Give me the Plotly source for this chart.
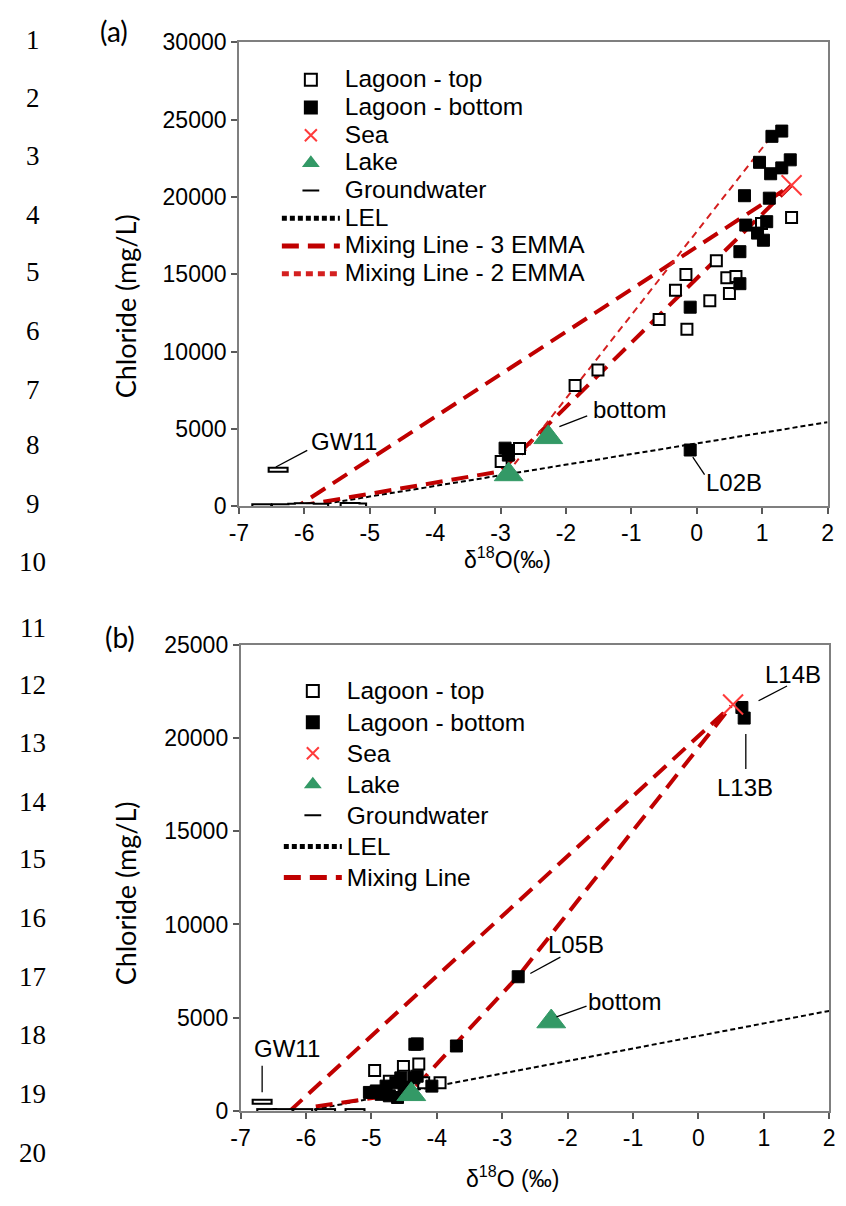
import plotly.graph_objects as go

# ---------------- Panel (a) ----------------
a_top_x = [1.45, 0.99, 0.30, -0.165, 0.46, 0.60, -0.325, 0.50, 0.20, -0.575, -0.15, -1.51, -1.86, -2.71, -2.99]
a_top_y = [18670, 18290, 15870, 14980, 14770, 14850, 13970, 13760, 13290, 12070, 11440, 8800, 7800, 3730, 2890]

a_bot_x = [1.30, 1.15, 0.96, 1.43, 1.30, 1.13, 0.73, 1.11, 0.75, 1.07, 0.93, 1.02, 0.66, 0.66, -0.10, -0.10, -2.93, -2.88, -2.88]
a_bot_y = [24260, 23920, 22240, 22400, 21880, 21500, 20080, 19920, 18180, 18400, 17660, 17200, 16460, 14390, 12870, 3630, 3750, 3600, 3300]

a_sea_x = [1.45]
a_sea_y = [20760]

a_lake_x = [-2.875, -2.27]
a_lake_y = [2050, 4450]

a_gw_x = [-6.4, -6.65, -6.35, -6.1, -6.0, -5.78, -5.3, -5.2]
a_gw_y = [2360, 0, 0, 20, 50, 30, 80, 40]

a_lel_x = [-5.9, 2.0]
a_lel_y = [0, 5430]

# three end-member mixing triangle: groundwater -> lake -> sea -> groundwater
a_mix3_x = [-6.1, -3.0, 1.45, -6.1]
a_mix3_y = [0, 2250, 20760, 0]

a_mix2_x = [-2.9, 1.1]
a_mix2_y = [2100, 23700]

# ---------------- Panel (b) ----------------
b_top_x = [-4.95, -4.51, -4.275, -4.725, -4.5, -4.2, -3.95, -4.65]
b_top_y = [2180, 2390, 2530, 1600, 1870, 1520, 1520, 1300]

b_bot_x = [-4.335, -4.30, -3.70, -2.755, 0.665, 0.70, -5.03, -4.925, -4.85, -4.775, -4.725,
           -4.625, -4.6, -4.55, -4.5, -4.45, -4.35, -4.3, -4.075]
b_bot_y = [3580, 3600, 3490, 7200, 21630, 21060, 1000, 1080, 900, 1340, 820,
           1520, 730, 1780, 1000, 1200, 1780, 1870, 1340]

b_sea_x = [0.53]
b_sea_y = [21790]

b_lake_x = [-4.39, -2.25]
b_lake_y = [900, 4800]

b_gw_x = [-6.67, -6.6, -6.35, -6.05, -5.7, -5.25]
b_gw_y = [500, 0, 0, 0, 0, 0]

b_lel_x = [-6.0, 2.0]
b_lel_y = [0, 5370]

b_mix_up_x = [-6.25, 0.5]
b_mix_up_y = [0, 21700]
b_mix_lo_x = [-5.85, -5.1, -4.4, -2.75, 0.5]
b_mix_lo_y = [250, 620, 1000, 7250, 21700]

# axis ticks
x_ticks = [-7, -6, -5, -4, -3, -2, -1, 0, 1, 2]
x_tick_text = ["-7", "-6", "-5", "-4", "-3", "-2", "-1", "0", "1", "2"]
ya_ticks = [0, 5000, 10000, 15000, 20000, 25000, 30000]
yb_ticks = [0, 5000, 10000, 15000, 20000, 25000]

# ---------------- styling ----------------
FONT = "Liberation Sans, Arial, sans-serif"
TITLE_FONT = "Lato, sans-serif"
RED_DARK = "#C00000"
RED_THIN = "#D42020"
SEA_RED = "#FF3B3B"
GREEN = "#339966"
LEG_TEXT = 24.5

W, H = 846, 1206

fig = go.Figure()


def leg(name):
    # legend entries are drawn a little larger than the row pitch allows
    return f'<span style="font-size:{LEG_TEXT}px">{name}</span>'


def add_panel(xa, ya, legend, top, bot, sea, lake, gw, lel, mixes):
    # lines first so the markers sit on top of them
    fig.add_trace(go.Scatter(x=lel[0], y=lel[1], mode="lines", name=leg("LEL"),
                             line=dict(color="black", width=2, dash="5px,3px"),
                             xaxis=xa, yaxis=ya, legend=legend, legendrank=6))
    for m in mixes:
        fig.add_trace(go.Scatter(x=m["x"], y=m["y"], mode="lines", name=leg(m["name"]),
                                 line=m["line"], showlegend=m["show"],
                                 xaxis=xa, yaxis=ya, legend=legend, legendrank=m["rank"]))
    fig.add_trace(go.Scatter(x=gw[0], y=gw[1], mode="markers", name=leg("Groundwater"),
                             marker=dict(symbol="line-ew", size=15, color="black",
                                         line=dict(color="black", width=6)),
                             xaxis=xa, yaxis=ya, legend=legend, legendrank=5))
    fig.add_trace(go.Scatter(x=gw[0], y=gw[1], mode="markers", showlegend=False,
                             marker=dict(symbol="line-ew", size=12, color="white",
                                         line=dict(color="white", width=2)),
                             xaxis=xa, yaxis=ya, hoverinfo="skip"))
    fig.add_trace(go.Scatter(x=top[0], y=top[1], mode="markers", name=leg("Lagoon - top"),
                             marker=dict(symbol="square", size=11, color="white",
                                         line=dict(color="black", width=2)),
                             xaxis=xa, yaxis=ya, legend=legend, legendrank=1))
    fig.add_trace(go.Scatter(x=bot[0], y=bot[1], mode="markers", name=leg("Lagoon - bottom"),
                             marker=dict(symbol="square", size=12, color="black",
                                         line=dict(color="black", width=1)),
                             xaxis=xa, yaxis=ya, legend=legend, legendrank=2))
    fig.add_trace(go.Scatter(x=lake[0], y=lake[1], mode="markers", name=leg("Lake"),
                             marker=dict(symbol="triangle-up", size=25, color=GREEN,
                                         line=dict(color=GREEN, width=1)),
                             xaxis=xa, yaxis=ya, legend=legend, legendrank=4))
    fig.add_trace(go.Scatter(x=sea[0], y=sea[1], mode="markers", name=leg("Sea"),
                             marker=dict(symbol="x-thin-open", size=20, color=SEA_RED,
                                         line=dict(color=SEA_RED, width=2)),
                             xaxis=xa, yaxis=ya, legend=legend, legendrank=3))


add_panel("x", "y", "legend",
          (a_top_x, a_top_y), (a_bot_x, a_bot_y), (a_sea_x, a_sea_y),
          (a_lake_x, a_lake_y), (a_gw_x, a_gw_y), (a_lel_x, a_lel_y),
          [dict(x=a_mix3_x, y=a_mix3_y, name="Mixing Line - 3 EMMA", show=True, rank=7,
                line=dict(color=RED_DARK, width=4, dash="17px,9px")),
           dict(x=a_mix2_x, y=a_mix2_y, name="Mixing Line - 2 EMMA", show=True, rank=8,
                line=dict(color=RED_THIN, width=2, dash="7px,5px"))])

add_panel("x2", "y2", "legend2",
          (b_top_x, b_top_y), (b_bot_x, b_bot_y), (b_sea_x, b_sea_y),
          (b_lake_x, b_lake_y), (b_gw_x, b_gw_y), (b_lel_x, b_lel_y),
          [dict(x=b_mix_up_x, y=b_mix_up_y, name="Mixing Line", show=True, rank=7,
                line=dict(color=RED_DARK, width=4, dash="17px,9px")),
           dict(x=b_mix_lo_x, y=b_mix_lo_y, name="Mixing Line", show=False, rank=8,
                line=dict(color=RED_DARK, width=4, dash="17px,9px"))])

# point labels with their leader lines
labels_a = [("GW11", -5.39, 4177, (-6.435, 2530), (-5.955, 3608)),
            ("bottom", -1.03, 6266, (-2.10, 5146), (-1.675, 5842)),
            ("L02B", 0.563, 1519, (-0.06, 3165), (0.12, 2044))]
labels_b = [("L14B", 1.445, 23376, (0.92, 21990), (1.355, 22780)),
            ("L13B", 0.71, 17343, (0.725, 20210), (0.725, 18330)),
            ("L05B", -1.878, 8950, (-2.57, 7376), (-2.11, 8252)),
            ("bottom", -1.135, 5891, (-2.17, 5052), (-1.71, 5629)),
            ("GW11", -6.286, 3373, (-6.67, 2429), (-6.67, 1012))]

annotations = []
shapes = []
for labels, xr, yr in ((labels_a, "x", "y"), (labels_b, "x2", "y2")):
    for text, tx, ty, p0, p1 in labels:
        annotations.append(dict(x=tx, y=ty, xref=xr, yref=yr, text=text, showarrow=False,
                                xanchor="center", yanchor="middle",
                                font=dict(family=FONT, size=24, color="black")))
        shapes.append(dict(type="line", xref=xr, yref=yr, x0=p0[0], y0=p0[1], x1=p1[0], y1=p1[1],
                           line=dict(color="black", width=1.3)))

# x-axis titles (placed below the tick labels, slightly left of centre)
for title, px, py in (("δ<sup>18</sup>O(‰)", 507, 557), ("δ<sup>18</sup>O (‰)", 512, 1190)):
    annotations.append(dict(x=px / W, y=1 - py / H, xref="paper", yref="paper", text=title,
                            xanchor="center", yanchor="middle", showarrow=False,
                            font=dict(family=FONT, size=23, color="black")))

# y-axis titles, set a little below the middle of each axis
for py in (300, 900):
    annotations.append(dict(x=118 / W, y=1 - py / H, xref="paper", yref="paper",
                            text="Chloride (mg/L)", textangle=-90,
                            xanchor="center", yanchor="middle", showarrow=False,
                            font=dict(family=TITLE_FONT, size=27, color="black")))

# panel letters
for letter, px, py in (("(a)", 106, 18), ("(b)", 112, 638)):
    annotations.append(dict(x=px / W, y=1 - py / H, xref="paper", yref="paper", text=letter,
                            xanchor="center", yanchor="middle", showarrow=False,
                            font=dict(family=TITLE_FONT, size=28, color="black")))

# manuscript line numbers down the left margin
line_numbers = list(range(1, 21))
line_number_y = [28, 87, 146, 206, 265, 325, 385, 442, 502, 561,
                 629, 687, 746, 806, 865, 925, 985, 1045, 1105, 1165]
for n, py in zip(line_numbers, line_number_y):
    annotations.append(dict(x=23 / W, y=1 - py / H, xref="paper", yref="paper", text=str(n),
                            xanchor="center", yanchor="middle", showarrow=False,
                            font=dict(family="Liberation Serif, Times New Roman, serif", size=27,
                                      color="black")))

axis_common = dict(showgrid=False, zeroline=False, showline=True, linecolor="#7F7F7F",
                   linewidth=1.5, mirror=True, ticks="outside", ticklen=6, tickwidth=1.5,
                   tickcolor="#595959", tickfont=dict(family=FONT, size=23, color="black"))

fig.update_layout(
    width=W, height=H,
    margin=dict(l=0, r=0, t=0, b=0),
    paper_bgcolor="white", plot_bgcolor="white",
    showlegend=True,
    xaxis=dict(axis_common, domain=[233.3 / W, 833.3 / W], range=[-7, 2], anchor="y",
               tickvals=x_ticks, ticktext=x_tick_text),
    yaxis=dict(axis_common, domain=[1 - 504 / H, 1 - 30 / H], range=[0, 30000], anchor="x",
               tickvals=ya_ticks, ticktext=[str(v) for v in ya_ticks]),
    xaxis2=dict(axis_common, domain=[235 / W, 835 / W], range=[-7, 2], anchor="y2",
                tickvals=x_ticks, ticktext=x_tick_text),
    yaxis2=dict(axis_common, domain=[1 - 1122.3 / H, 1 - 645.5 / H], range=[0, 25000], anchor="x2",
                tickvals=yb_ticks, ticktext=[str(v) for v in yb_ticks]),
    legend=dict(x=272 / W, y=1 - 49 / H, xanchor="left", yanchor="top",
                bgcolor="rgba(0,0,0,0)", font=dict(family=FONT, size=19, color="black"),
                itemwidth=58, tracegroupgap=0, itemsizing="constant"),
    legend2=dict(x=274 / W, y=1 - 672 / H, xanchor="left", yanchor="top",
                 bgcolor="rgba(0,0,0,0)", font=dict(family=FONT, size=21.6, color="black"),
                 itemwidth=58, tracegroupgap=0, itemsizing="constant"),
    annotations=annotations,
    shapes=shapes,
)

page_fit = "document.body.style.margin='0';document.body.style.overflow='hidden';"
fig.write_html("out.html", post_script=page_fit)
